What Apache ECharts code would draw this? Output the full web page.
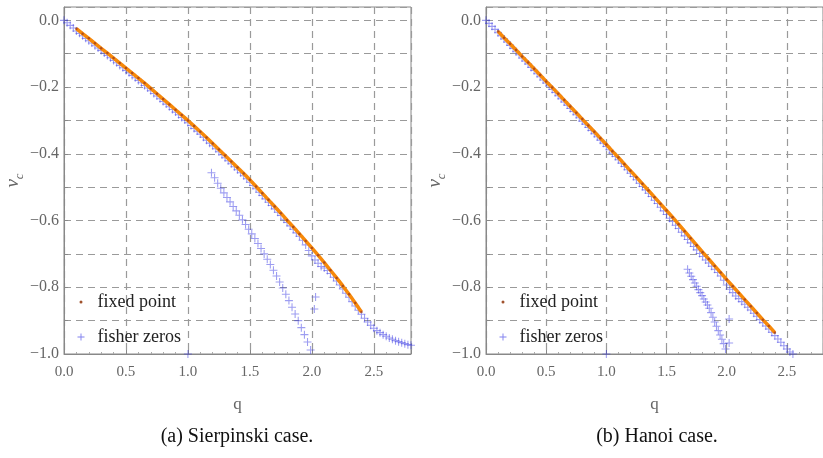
<!DOCTYPE html>
<html><head><meta charset="utf-8">
<script src="https://cdn.jsdelivr.net/npm/echarts@6/dist/echarts.min.js"></script>
<style>html,body{margin:0;padding:0;background:#fff}#c{width:823px;height:458px}</style>
</head><body><div id="c"></div>
<script>
// ---------- data ----------
const xTickLabels = ['0.0','0.5','1.0','1.5','2.0','2.5'];
const yTickLabels = ['0.0','−0.2','−0.4','−0.6','−0.8','−1.0'];
const captions = ['(a) Sierpinski case.', '(b) Hanoi case.'];

// Sierpinski: fixed point [q, v_c]
const sierFixed = [[0.10,-0.025],[0.15,-0.040],[0.20,-0.054],[0.25,-0.069],[0.30,-0.084],[0.35,-0.098],[0.40,-0.113],[0.45,-0.128],[0.50,-0.143],[0.55,-0.158],[0.60,-0.173],[0.65,-0.188],[0.70,-0.204],[0.75,-0.220],[0.80,-0.236],[0.85,-0.252],[0.90,-0.268],[0.95,-0.284],[1.00,-0.300],[1.05,-0.317],[1.10,-0.334],[1.15,-0.351],[1.20,-0.369],[1.25,-0.387],[1.30,-0.405],[1.35,-0.423],[1.40,-0.441],[1.45,-0.459],[1.50,-0.478],[1.55,-0.498],[1.60,-0.518],[1.65,-0.538],[1.70,-0.558],[1.75,-0.578],[1.80,-0.599],[1.85,-0.619],[1.90,-0.640],[1.95,-0.661],[2.00,-0.682],[2.05,-0.704],[2.10,-0.726],[2.15,-0.749],[2.20,-0.772],[2.25,-0.796],[2.30,-0.821],[2.35,-0.847],[2.40,-0.874]];
// Sierpinski: fisher zeros, main branch
const sierFisherMain = [[0.000,0.000],[0.025,-0.007],[0.050,-0.015],[0.075,-0.023],[0.100,-0.032],[0.125,-0.039],[0.150,-0.046],[0.175,-0.054],[0.200,-0.061],[0.225,-0.068],[0.250,-0.076],[0.275,-0.083],[0.300,-0.090],[0.325,-0.098],[0.350,-0.105],[0.375,-0.112],[0.400,-0.120],[0.425,-0.127],[0.450,-0.135],[0.475,-0.142],[0.500,-0.150],[0.525,-0.157],[0.550,-0.165],[0.575,-0.172],[0.600,-0.180],[0.625,-0.187],[0.650,-0.195],[0.675,-0.203],[0.700,-0.211],[0.725,-0.219],[0.750,-0.227],[0.775,-0.235],[0.800,-0.243],[0.825,-0.251],[0.850,-0.259],[0.875,-0.267],[0.900,-0.275],[0.925,-0.283],[0.950,-0.291],[0.975,-0.299],[1.000,-0.307],[1.025,-0.315],[1.050,-0.324],[1.075,-0.332],[1.100,-0.341],[1.125,-0.350],[1.150,-0.359],[1.175,-0.368],[1.200,-0.376],[1.225,-0.385],[1.250,-0.394],[1.275,-0.403],[1.300,-0.412],[1.325,-0.421],[1.350,-0.430],[1.375,-0.439],[1.400,-0.448],[1.425,-0.457],[1.450,-0.466],[1.475,-0.475],[1.500,-0.485],[1.525,-0.495],[1.550,-0.505],[1.575,-0.515],[1.600,-0.525],[1.625,-0.535],[1.650,-0.545],[1.675,-0.555],[1.700,-0.565],[1.725,-0.575],[1.750,-0.585],[1.775,-0.596],[1.800,-0.606],[1.825,-0.616],[1.850,-0.626],[1.875,-0.637],[1.900,-0.647],[1.925,-0.659],[1.950,-0.673],[1.975,-0.690],[2.000,-0.706],[2.025,-0.718],[2.050,-0.728],[2.075,-0.738],[2.100,-0.742],[2.125,-0.750],[2.150,-0.759],[2.175,-0.770],[2.200,-0.781],[2.225,-0.793],[2.250,-0.805],[2.275,-0.818],[2.300,-0.830],[2.325,-0.843],[2.350,-0.856],[2.375,-0.869],[2.400,-0.881],[2.425,-0.893],[2.450,-0.904],[2.475,-0.914],[2.500,-0.923],[2.525,-0.930],[2.550,-0.936],[2.575,-0.942],[2.600,-0.947],[2.625,-0.952],[2.650,-0.956],[2.675,-0.960],[2.700,-0.963],[2.725,-0.966],[2.750,-0.969],[2.775,-0.972],[2.800,-0.974]];
// Sierpinski: fisher zeros, lower branch and isolated zeros
const sierFisherLower = [[1.190,-0.457],[1.215,-0.472],[1.240,-0.488],[1.265,-0.503],[1.290,-0.517],[1.315,-0.531],[1.340,-0.544],[1.365,-0.558],[1.390,-0.571],[1.415,-0.584],[1.440,-0.598],[1.465,-0.612],[1.490,-0.626],[1.515,-0.640],[1.540,-0.654],[1.565,-0.669],[1.590,-0.684],[1.615,-0.700],[1.640,-0.716],[1.665,-0.732],[1.690,-0.749],[1.715,-0.766],[1.740,-0.784],[1.765,-0.802],[1.790,-0.821],[1.815,-0.840],[1.840,-0.860],[1.865,-0.880],[1.890,-0.900],[1.915,-0.921],[1.940,-0.942],[1.965,-0.964],[1.990,-0.988]];
const sierFisherIsolated = [[2.03,-0.829],[2.02,-0.865],[1.00,-1.000]];

// Hanoi: fixed point
const hanoiFixed = [[0.10,-0.033],[0.15,-0.052],[0.20,-0.070],[0.25,-0.089],[0.30,-0.108],[0.35,-0.126],[0.40,-0.145],[0.45,-0.164],[0.50,-0.183],[0.55,-0.201],[0.60,-0.220],[0.65,-0.239],[0.70,-0.258],[0.75,-0.277],[0.80,-0.296],[0.85,-0.315],[0.90,-0.334],[0.95,-0.353],[1.00,-0.372],[1.05,-0.392],[1.10,-0.411],[1.15,-0.431],[1.20,-0.451],[1.25,-0.470],[1.30,-0.490],[1.35,-0.510],[1.40,-0.530],[1.45,-0.550],[1.50,-0.570],[1.55,-0.590],[1.60,-0.611],[1.65,-0.632],[1.70,-0.653],[1.75,-0.674],[1.80,-0.695],[1.85,-0.715],[1.90,-0.736],[1.95,-0.756],[2.00,-0.777],[2.05,-0.797],[2.10,-0.817],[2.15,-0.837],[2.20,-0.857],[2.25,-0.877],[2.30,-0.897],[2.35,-0.916],[2.40,-0.936]];
// Hanoi: fisher zeros, main branch
const hanoiFisherMain = [[0.000,0.000],[0.025,-0.009],[0.050,-0.018],[0.075,-0.027],[0.100,-0.037],[0.125,-0.046],[0.150,-0.056],[0.175,-0.065],[0.200,-0.075],[0.225,-0.084],[0.250,-0.094],[0.275,-0.103],[0.300,-0.113],[0.325,-0.122],[0.350,-0.131],[0.375,-0.141],[0.400,-0.150],[0.425,-0.160],[0.450,-0.169],[0.475,-0.179],[0.500,-0.188],[0.525,-0.197],[0.550,-0.207],[0.575,-0.216],[0.600,-0.226],[0.625,-0.235],[0.650,-0.245],[0.675,-0.254],[0.700,-0.264],[0.725,-0.273],[0.750,-0.283],[0.775,-0.292],[0.800,-0.302],[0.825,-0.311],[0.850,-0.321],[0.875,-0.330],[0.900,-0.340],[0.925,-0.349],[0.950,-0.359],[0.975,-0.368],[1.000,-0.378],[1.025,-0.388],[1.050,-0.398],[1.075,-0.408],[1.100,-0.418],[1.125,-0.428],[1.150,-0.438],[1.175,-0.448],[1.200,-0.458],[1.225,-0.468],[1.250,-0.478],[1.275,-0.488],[1.300,-0.498],[1.325,-0.508],[1.350,-0.518],[1.375,-0.528],[1.400,-0.539],[1.425,-0.549],[1.450,-0.560],[1.475,-0.571],[1.500,-0.582],[1.525,-0.593],[1.550,-0.603],[1.575,-0.614],[1.600,-0.624],[1.625,-0.635],[1.650,-0.646],[1.675,-0.657],[1.700,-0.667],[1.725,-0.678],[1.750,-0.688],[1.775,-0.699],[1.800,-0.708],[1.825,-0.718],[1.850,-0.727],[1.875,-0.737],[1.900,-0.746],[1.925,-0.756],[1.950,-0.766],[1.975,-0.779],[2.000,-0.793],[2.025,-0.806],[2.050,-0.816],[2.075,-0.826],[2.100,-0.834],[2.125,-0.843],[2.150,-0.851],[2.175,-0.860],[2.200,-0.868],[2.225,-0.878],[2.250,-0.887],[2.275,-0.897],[2.300,-0.906],[2.325,-0.916],[2.350,-0.925],[2.375,-0.935],[2.400,-0.945],[2.425,-0.955],[2.450,-0.965],[2.475,-0.975],[2.500,-0.985],[2.525,-0.994],[2.550,-1.000]];
// Hanoi: fisher zeros, lower branch and isolated zeros
const hanoiFisherLower = [[1.675,-0.746],[1.690,-0.757],[1.705,-0.767],[1.720,-0.777],[1.735,-0.787],[1.750,-0.797],[1.765,-0.807],[1.780,-0.816],[1.795,-0.825],[1.810,-0.835],[1.825,-0.844],[1.840,-0.853],[1.855,-0.863],[1.870,-0.876],[1.885,-0.890],[1.900,-0.904],[1.915,-0.917],[1.930,-0.930],[1.945,-0.943],[1.960,-0.956],[1.975,-0.969],[1.990,-0.985]];
const hanoiFisherIsolated = [[2.02,-0.895],[2.02,-0.967],[1.00,-1.000]];

// ---------- chart ----------
const SERIF = '"Liberation Serif", "DejaVu Serif", serif';
const GRAY = '#666';
const PLUS = 'path://M2.6,0h0.8v2.6h2.6v0.8h-2.6v2.6h-0.8v-2.6h-2.6v-0.8h2.6z';
const BLUE = 'rgba(50,50,225,0.6)';
const ORANGE = '#f7890a';
const BROWN = '#a2401c';

function xAxis(i) {
  return {
    type: 'value', gridIndex: i, min: 0, max: 2.8, interval: 0.5,
    axisLine: {show: true, onZero: false, lineStyle: {color: '#888', width: 1}},
    axisTick: {show: true, inside: true, length: 4, lineStyle: {color: '#888'}},
    minorTick: {show: true, splitNumber: 5, length: 2, lineStyle: {color: '#aaa'}},
    splitLine: {show: true, lineStyle: {color: '#9a9a9a', type: [7, 5], width: 1.2}},
    axisLabel: {
      fontFamily: SERIF, fontSize: 15, color: GRAY, margin: 11, showMaxLabel: false,
      formatter: v => { const k = Math.round(v * 2); return (Math.abs(v * 2 - k) < 1e-6 && k >= 0 && k < xTickLabels.length) ? xTickLabels[k] : ''; }
    },
    name: 'q', nameLocation: 'middle', nameGap: 42,
    nameTextStyle: {fontFamily: SERIF, fontSize: 17, color: GRAY}
  };
}
function yAxis(i) {
  return {
    type: 'value', gridIndex: i, min: -1, max: 0.04, interval: 0.1,
    axisLine: {show: true, onZero: false, lineStyle: {color: '#888', width: 1}},
    axisTick: {show: true, inside: true, length: 4, lineStyle: {color: '#888'}},
    splitLine: {show: true, lineStyle: {color: '#9a9a9a', type: [7, 5], width: 1.2}},
    axisLabel: {
      fontFamily: SERIF, fontSize: 16, color: GRAY, margin: 5, showMaxLabel: false,
      formatter: v => { const k = Math.round(-v * 5); return (Math.abs(-v * 5 - k) < 1e-6 && k >= 0 && k < yTickLabels.length) ? yTickLabels[k] : ''; }
    },
    name: '{v|v}{c|c}', nameLocation: 'middle', nameGap: 37, nameRotate: 90,
    nameTextStyle: {
      rich: {
        v: {fontFamily: SERIF, fontStyle: 'italic', fontSize: 19, color: GRAY, verticalAlign: 'top', lineHeight: 23},
        c: {fontFamily: SERIF, fontStyle: 'italic', fontSize: 13, color: GRAY, verticalAlign: 'bottom', lineHeight: 23}
      }
    }
  };
}
function seriesFor(i, fixed, fisherArrays) {
  const fisher = [].concat(...fisherArrays);
  return [
    {name: 'fisher zeros', type: 'scatter', xAxisIndex: i, yAxisIndex: i, data: fisher,
     symbol: PLUS, symbolSize: 8, itemStyle: {color: BLUE}, z: 2, silent: true},
    {name: 'fixed point', type: 'line', xAxisIndex: i, yAxisIndex: i, data: fixed,
     showSymbol: false, symbol: 'none', lineStyle: {color: ORANGE, width: 3.5}, itemStyle: {color: ORANGE}, z: 3, silent: true},
    {name: 'fixed point', type: 'scatter', xAxisIndex: i, yAxisIndex: i, data: fixed,
     symbol: 'circle', symbolSize: 2.5, itemStyle: {color: BROWN}, z: 4, silent: true}
  ];
}
function legends(left) {
  const ts = {fontFamily: SERIF, fontSize: 18, color: '#222'};
  return [
    {data: [{name: 'fixed point', icon: 'circle', itemStyle: {color: '#a0522d'}}], left: left + 2, top: 288,
     itemWidth: 3, itemHeight: 3, selectedMode: false, textStyle: Object.assign({padding: [0, 0, 0, 10]}, ts)},
    {data: [{name: 'fisher zeros', icon: PLUS, itemStyle: {color: 'rgba(60,60,230,0.8)'}}], left: left, top: 323,
     itemWidth: 7, itemHeight: 7, selectedMode: false, textStyle: Object.assign({padding: [0, 0, 0, 8]}, ts)}
  ];
}

const chart = echarts.init(document.getElementById('c'), null, {renderer: 'canvas'});
chart.setOption({
  animation: false,
  backgroundColor: '#fff',
  grid: [
    {left: 64, top: 7, width: 347, height: 347, show: true, borderColor: '#888', borderWidth: 1, containLabel: false},
    {left: 486, top: 7, width: 347, height: 347, show: true, borderColor: '#888', borderWidth: 1, containLabel: false}
  ],
  xAxis: [xAxis(0), xAxis(1)],
  yAxis: [yAxis(0), yAxis(1)],
  legend: legends(72.5).concat(legends(494.5)),
  series: seriesFor(0, sierFixed, [sierFisherMain, sierFisherLower, sierFisherIsolated])
    .concat(seriesFor(1, hanoiFixed, [hanoiFisherMain, hanoiFisherLower, hanoiFisherIsolated])),
  graphic: [
    {type: 'text', x: 237, y: 437, style: {text: captions[0], font: '20px ' + SERIF, fill: '#111', align: 'center', verticalAlign: 'middle'}},
    {type: 'text', x: 657, y: 437, style: {text: captions[1], font: '20px ' + SERIF, fill: '#111', align: 'center', verticalAlign: 'middle'}}
  ]
});
</script>
</body></html>
